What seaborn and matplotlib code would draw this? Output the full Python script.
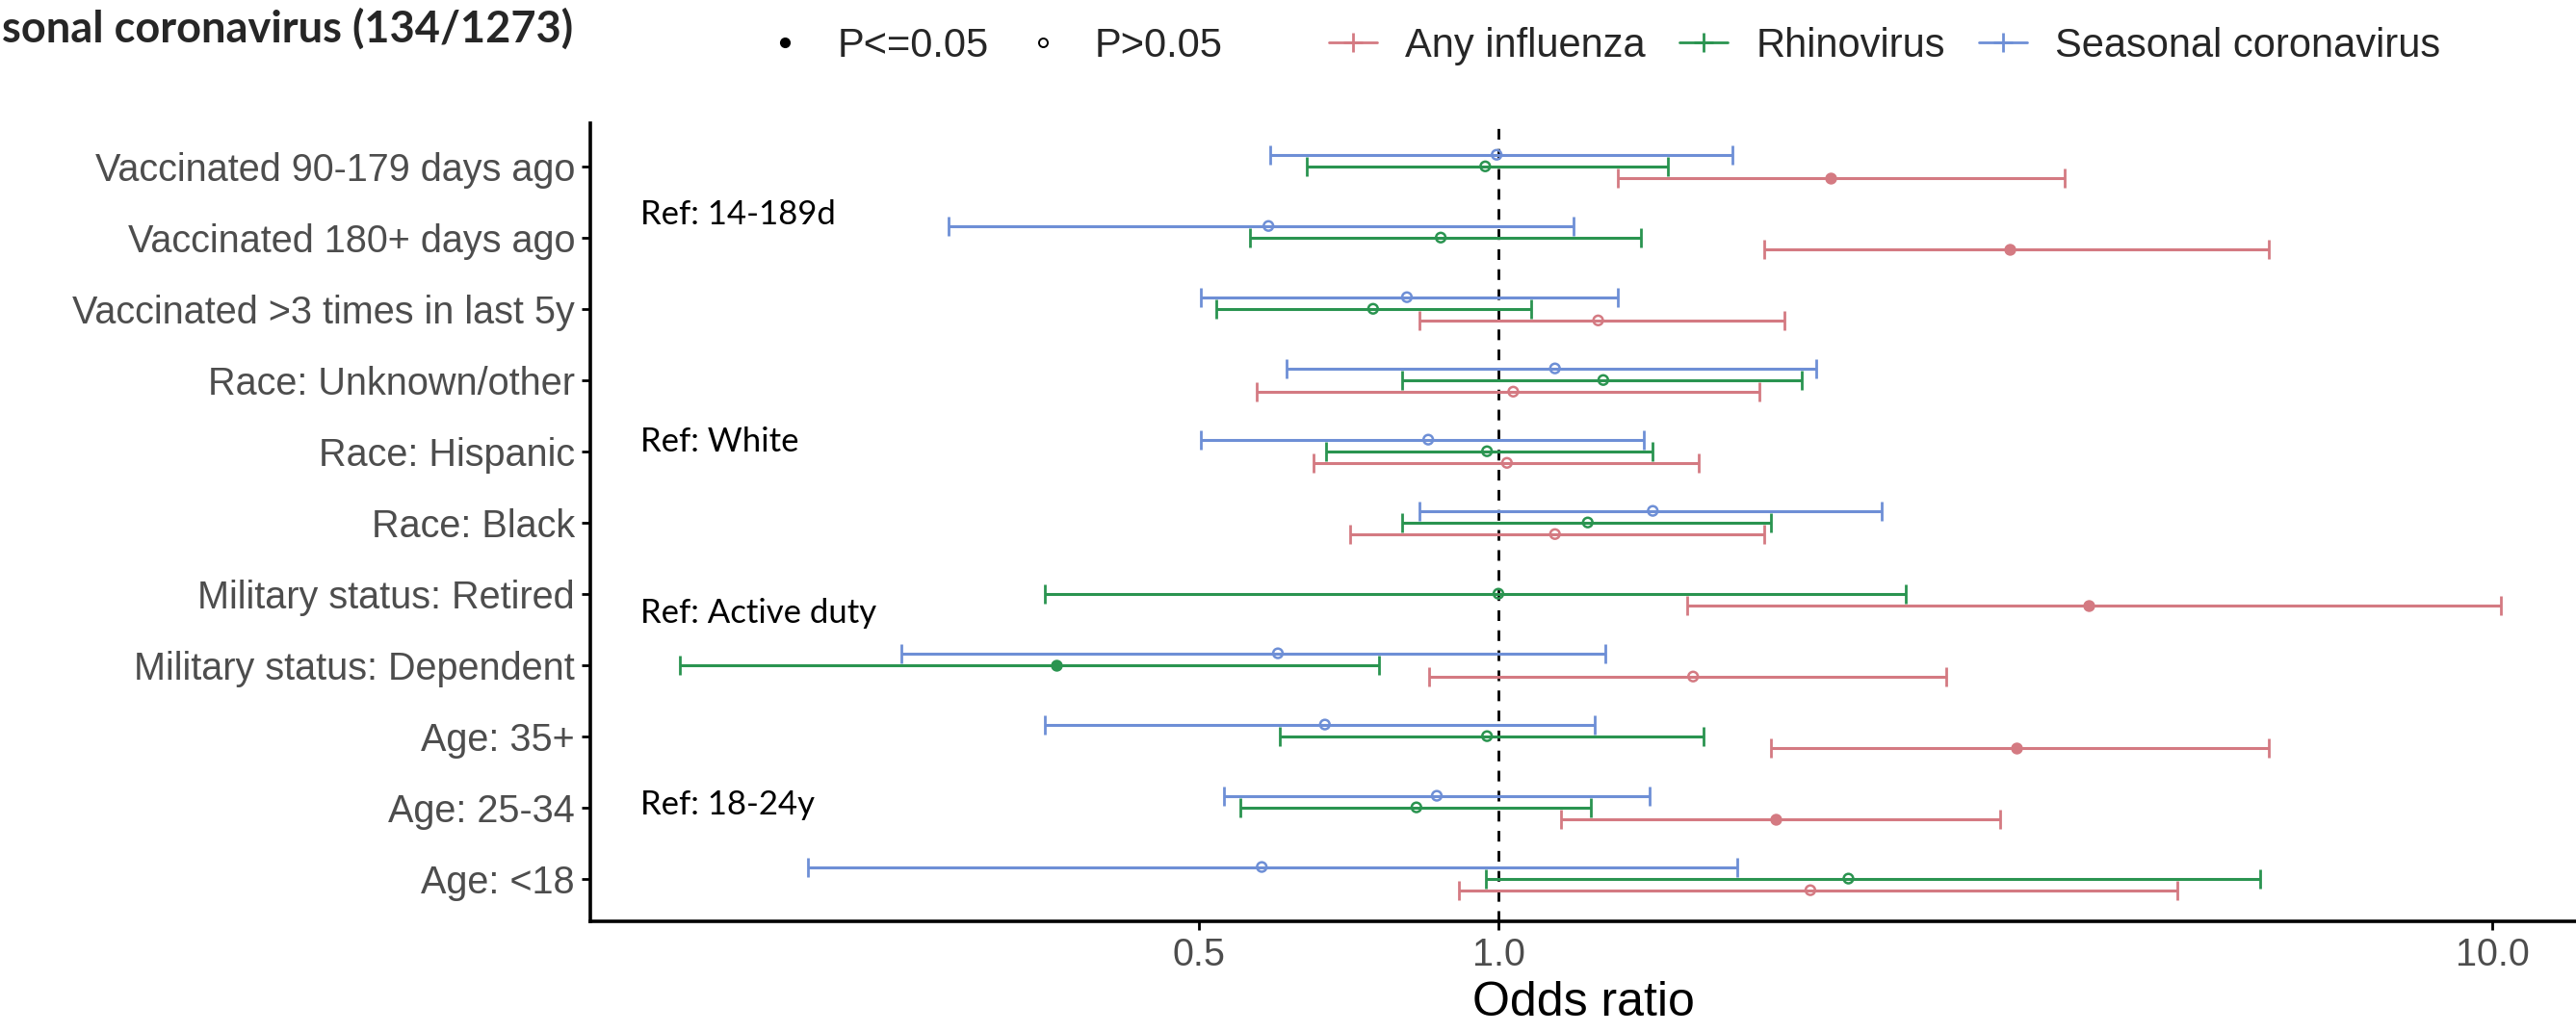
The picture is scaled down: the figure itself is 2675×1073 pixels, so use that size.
import matplotlib
matplotlib.use("Agg")
import matplotlib.pyplot as plt
from matplotlib.lines import Line2D
from matplotlib.ticker import NullLocator
import numpy as np
import pandas as pd
import seaborn as sns

# rows, top to bottom
labels = ["Vaccinated 90-179 days ago", "Vaccinated 180+ days ago",
          "Vaccinated >3 times in last 5y", "Race: Unknown/other",
          "Race: Hispanic", "Race: Black", "Military status: Retired",
          "Military status: Dependent", "Age: 35+", "Age: 25-34", "Age: <18"]

flu_or = [2.16, 3.27, 1.26, 1.035, 1.02, 1.14, 3.93, 1.57, 3.32, 1.90, 2.06]
flu_lo = [1.32, 1.85, 0.833, 0.571, 0.652, 0.709, 1.55, 0.852, 1.88, 1.156, 0.913]
flu_hi = [3.71, 5.96, 1.94, 1.83, 1.59, 1.85, 10.2, 2.82, 5.96, 3.20, 4.82]
flu_sig = [1, 1, 0, 0, 0, 0, 1, 0, 1, 1, 0]

rhino_or = [0.97, 0.875, 0.748, 1.275, 0.974, 1.23, 1.0, 0.359, 0.974, 0.827, 2.25]
rhino_lo = [0.641, 0.562, 0.520, 0.80, 0.671, 0.80, 0.35, 0.150, 0.603, 0.55, 0.972]
rhino_hi = [1.48, 1.39, 1.08, 2.02, 1.43, 1.88, 2.57, 0.758, 1.61, 1.24, 5.84]
rhino_sig = [0, 0, 0, 0, 0, 0, 0, 1, 0, 0, 0]

cov_or = [0.996, 0.587, 0.809, 1.14, 0.85, 1.43, np.nan, 0.60, 0.669, 0.867, 0.578]
cov_lo = [0.589, 0.280, 0.502, 0.612, 0.502, 0.833, np.nan, 0.251, 0.350, 0.53, 0.202]
cov_hi = [1.72, 1.19, 1.32, 2.09, 1.40, 2.43, np.nan, 1.28, 1.25, 1.42, 1.74]
cov_sig = [0, 0, 0, 0, 0, 0, 0, 0, 0, 0, 0]

viruses = ["Any influenza", "Rhinovirus", "Seasonal coronavirus"]
colors = {"Any influenza": "#D47A82", "Rhinovirus": "#2A9450", "Seasonal coronavirus": "#6E8FD6"}
dodge = {"Any influenza": 0.163, "Rhinovirus": 0.0, "Seasonal coronavirus": -0.163}

ref_labels = ["Ref: 14-189d", "Ref: White", "Ref: Active duty", "Ref: 18-24y"]
ref_rows = [0.68, 3.87, 6.27, 8.97]

frames = []
for v, o, lo, hi, sg in [("Any influenza", flu_or, flu_lo, flu_hi, flu_sig),
                         ("Rhinovirus", rhino_or, rhino_lo, rhino_hi, rhino_sig),
                         ("Seasonal coronavirus", cov_or, cov_lo, cov_hi, cov_sig)]:
    frames.append(pd.DataFrame({"virus": v, "row": np.arange(len(labels)),
                                "or": o, "lo": lo, "hi": hi, "sig": sg}))
df = pd.concat(frames).dropna()
df["y"] = df["row"] + df["virus"].map(dodge)

sns.set_theme(style="ticks")
plt.rcParams["font.family"] = ["Liberation Sans", "DejaVu Sans"]

fig = plt.figure(figsize=(26.75, 10.73), dpi=100)
ax = fig.add_axes([613 / 2675, 116 / 1073, 1 - 613 / 2675, (957 - 128.4) / 1073])

ax.axvline(1.0, color="black", lw=2, dashes=(4, 3.5), zorder=1)

for v in viruses:
    d = df[df["virus"] == v]
    ax.errorbar(d["or"], d["y"], xerr=[d["or"] - d["lo"], d["hi"] - d["or"]],
                fmt="none", ecolor=colors[v], elinewidth=2.2, capsize=7, capthick=2, zorder=2)
    # filled = P<=0.05, open = P>0.05
    ds = d[d["sig"] == 1]
    if len(ds):
        sns.scatterplot(x=ds["or"], y=ds["y"], color=colors[v], edgecolor=colors[v],
                        s=55, linewidth=1.5, legend=False, ax=ax, zorder=3)
    dn = d[d["sig"] == 0]
    ax.scatter(dn["or"], dn["y"], s=50, facecolors="none", edgecolors=colors[v],
               linewidths=1.8, zorder=3)

for t, r in zip(ref_labels, ref_rows):
    ax.text(0.137, r, t, ha="left", va="center", fontsize=25, family="Lato", color="black")

ax.set_xscale("log")
ax.set_xlim(0.122, 12.14)
ax.set_xticks([0.5, 1.0, 10.0])
ax.set_xticklabels(["0.5", "1.0", "10.0"])
ax.xaxis.set_minor_locator(NullLocator())
ax.set_ylim(len(labels) - 0.4, -0.6)
ax.set_yticks(range(len(labels)))
ax.set_yticklabels(labels)
ax.set_ylabel("")
ax.set_xlabel("Odds ratio", fontsize=36, color="black", labelpad=6)

ax.tick_params(axis="both", labelsize=28.5, labelcolor="#4D4D4D", color="black",
               length=6.5, width=2, pad=5)
for s in ["top", "right"]:
    ax.spines[s].set_visible(False)
for s in ["left", "bottom"]:
    ax.spines[s].set_linewidth(2.6)
    ax.spines[s].set_color("black")

# title, clipped at the top-left like the reference
fig.text(2 / 2675, 1 - 44 / 1073, "sonal coronavirus (134/1273)", ha="left", va="baseline",
         fontsize=32.5, fontweight="bold", family="Lato")

# legends
p_handles = [Line2D([], [], marker="o", ls="none", color="black", ms=7),
             Line2D([], [], marker="o", ls="none", mfc="none", mec="black", ms=6.5, mew=1.4)]
leg1 = fig.legend(p_handles, ["P<=0.05", "P>0.05"], loc="center left",
                  bbox_to_anchor=(790 / 2675, 1 - 48 / 1073), ncol=2, frameon=False,
                  fontsize=30, handlelength=1.2, handletextpad=0.7, columnspacing=0.75,
                  borderpad=0, borderaxespad=0)
v_handles = [Line2D([], [], color=colors[v], lw=2, marker="+", ms=14, mew=2) for v in viruses]
leg2 = fig.legend(v_handles, viruses, loc="center left",
                  bbox_to_anchor=(1380 / 2675, 1 - 48 / 1073), ncol=3, frameon=False,
                  fontsize=30, handlelength=1.2, handletextpad=0.7, columnspacing=0.85,
                  borderpad=0, borderaxespad=0)

fig.savefig("out.png", dpi=100)
